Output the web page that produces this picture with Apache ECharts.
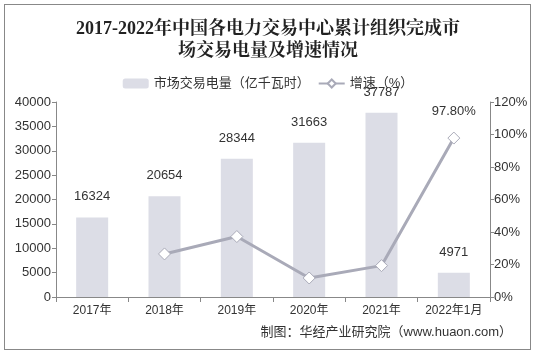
<!DOCTYPE html>
<html>
<head>
<meta charset="utf-8">
<script src="https://cdn.jsdelivr.net/npm/echarts@6/dist/echarts.min.js"></script>
<style>
    html, body { margin: 0; padding: 0; background: #fff; }
    #box { position: absolute; left: 4px; top: 4px; width: 525px; height: 344px; border: 1px solid #888; }
    #chart { width: 536px; height: 354px; position: absolute; left: 0; top: 0; }
</style>
</head>
<body>
<div id="box"></div>
<div id="chart"></div>
<script>
    // 年份
    let years = ['2017年', '2018年', '2019年', '2020年', '2021年', '2022年1月'];
    // 市场交易电量（亿千瓦时）
    let volume = [16324, 20654, 28344, 31663, 37787, 4971];
    // 增速（%）
    let growth = [null, 26.5, 37.2, 11.7, 19.3, 97.8];

    let chart = echarts.init(document.getElementById('chart'));
    let font = 'Arial, "Liberation Sans", "Noto Sans CJK SC", sans-serif';
    let option = {
        animation: false,
        title: {
            text: '2017-2022年中国各电力交易中心累计组织完成市\n场交易电量及增速情况',
            left: 'center',
            top: 13,
            textStyle: {
                fontFamily: '"Liberation Serif", "Noto Serif CJK SC", "Noto Sans CJK SC", serif',
                fontSize: 18,
                fontWeight: 'bold',
                color: '#222',
                lineHeight: 22
            }
        },
        legend: {
            top: 72,
            left: 'center',
            itemGap: 8,
            itemWidth: 26,
            itemHeight: 10,
            textStyle: { fontFamily: font, fontSize: 13, color: '#333' },
            data: [
                { name: '市场交易电量（亿千瓦时）' },
                { name: '增速（%）' }
            ]
        },
        grid: {
            left: 56,
            right: 46,
            top: 102,
            bottom: 57
        },
        xAxis: {
            type: 'category',
            data: years,
            axisLine: { lineStyle: { color: '#888' } },
            axisTick: { show: true, length: 5, lineStyle: { color: '#888' } },
            axisLabel: { fontFamily: font, fontSize: 12, color: '#333', margin: 8, interval: 0 }
        },
        yAxis: [{
            type: 'value',
            min: 0,
            max: 40000,
            interval: 5000,
            axisLine: { show: true, lineStyle: { color: '#888' } },
            axisTick: { show: true, length: 4, lineStyle: { color: '#888' } },
            splitLine: { show: false },
            axisLabel: {
                fontFamily: font, fontSize: 13, color: '#333', margin: 5,
                formatter: function (v) { return String(v); }
            }
        }, {
            type: 'value',
            min: 0,
            max: 120,
            interval: 20,
            axisLine: { show: true, lineStyle: { color: '#888' } },
            axisTick: { show: true, length: 4, lineStyle: { color: '#888' } },
            splitLine: { show: false },
            axisLabel: { fontFamily: font, fontSize: 13, color: '#333', margin: 4, formatter: '{value}%' }
        }],
        series: [{
            name: '市场交易电量（亿千瓦时）',
            type: 'bar',
            data: volume,
            barWidth: 32,
            itemStyle: { color: '#dcdde6' },
            label: {
                show: true,
                position: 'top',
                distance: 14,
                fontFamily: font,
                fontSize: 13,
                color: '#333'
            }
        }, {
            name: '增速（%）',
            type: 'line',
            yAxisIndex: 1,
            data: growth,
            symbol: 'diamond',
            symbolSize: 12,
            lineStyle: { color: '#a9aab8', width: 3 },
            itemStyle: { color: '#fff', borderColor: '#a9aab8', borderWidth: 1 },
            label: {
                show: true,
                position: 'top',
                distance: 14,
                fontFamily: font,
                fontSize: 13,
                color: '#333',
                formatter: function (p) {
                    return p.dataIndex == 5 ? p.value.toFixed(2) + '%' : '';
                }
            }
        }],
        graphic: [{
            type: 'text',
            right: 24,
            top: 326,
            style: {
                text: '制图：华经产业研究院（www.huaon.com）',
                font: '13px ' + font,
                fill: '#333'
            }
        }]
    };
    chart.setOption(option, true);
    window.addEventListener('resize', function () {
        chart.resize();
    });
</script>
</body>
</html>
